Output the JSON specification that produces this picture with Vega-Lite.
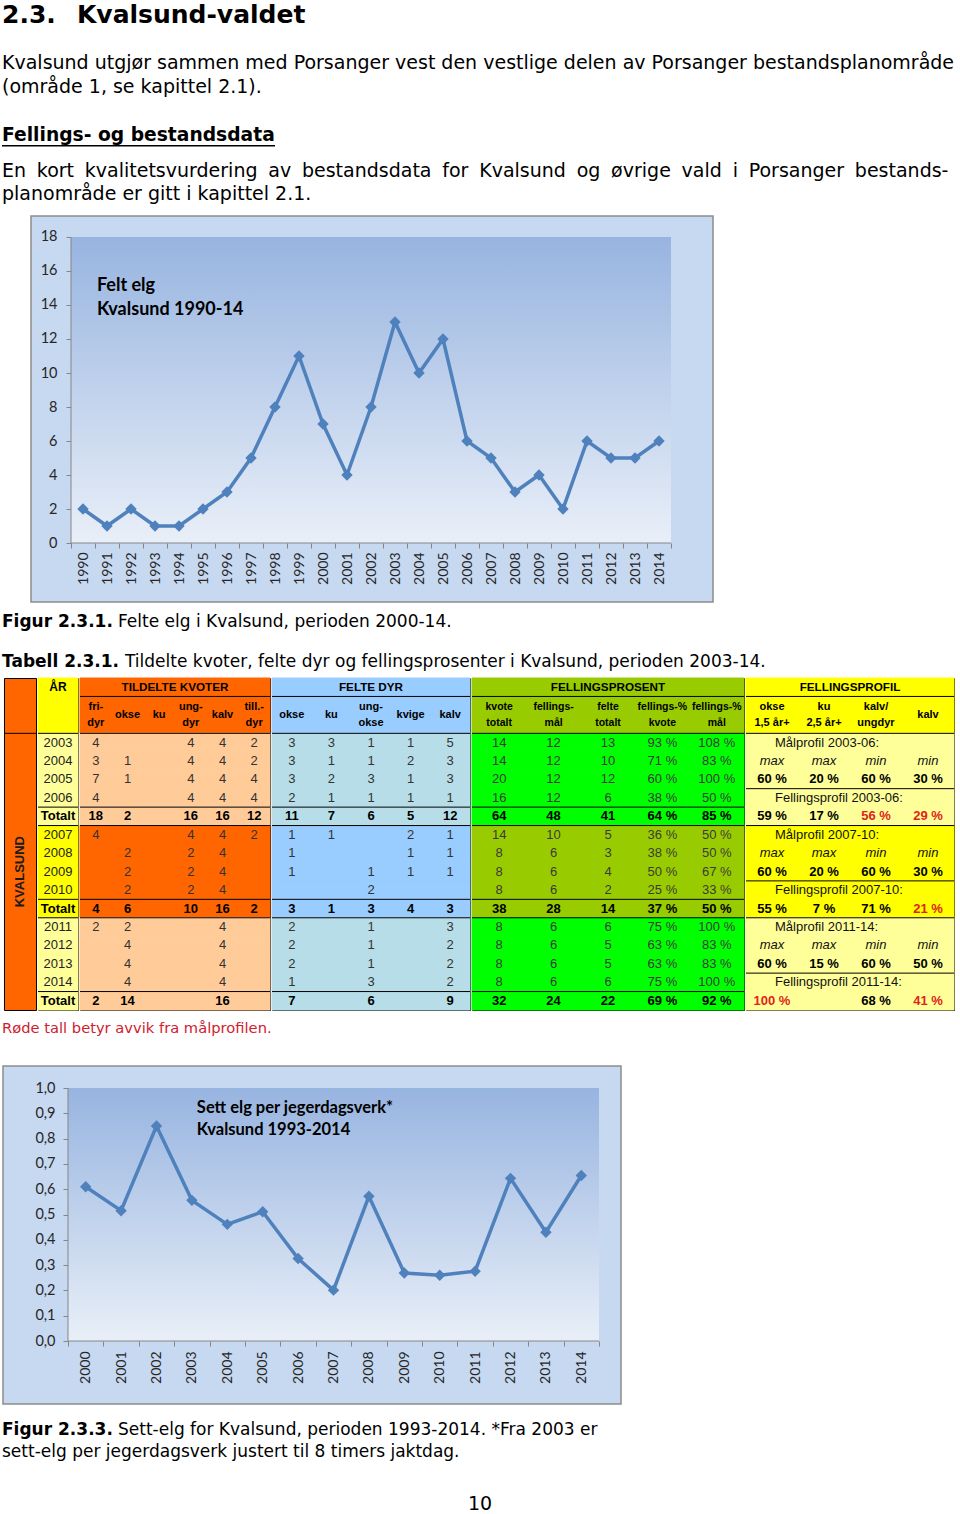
{
  "$schema": "https://vega.github.io/schema/vega-lite/v6.json",
  "padding": {"top": -5, "left": 0, "right": 0, "bottom": 0},
  "background": "#ffffff",
  "spacing": 0,
  "datasets": {
    "felt": [
      {"year": 1990, "felt": 2}, {"year": 1991, "felt": 1}, {"year": 1992, "felt": 2}, {"year": 1993, "felt": 1},
      {"year": 1994, "felt": 1}, {"year": 1995, "felt": 2}, {"year": 1996, "felt": 3}, {"year": 1997, "felt": 5},
      {"year": 1998, "felt": 8}, {"year": 1999, "felt": 11}, {"year": 2000, "felt": 7}, {"year": 2001, "felt": 4},
      {"year": 2002, "felt": 8}, {"year": 2003, "felt": 13}, {"year": 2004, "felt": 10}, {"year": 2005, "felt": 12},
      {"year": 2006, "felt": 6}, {"year": 2007, "felt": 5}, {"year": 2008, "felt": 3}, {"year": 2009, "felt": 4},
      {"year": 2010, "felt": 2}, {"year": 2011, "felt": 6}, {"year": 2012, "felt": 5}, {"year": 2013, "felt": 5},
      {"year": 2014, "felt": 6}
    ],
    "sett": [
      {"year": 2000, "sett": 0.61}, {"year": 2001, "sett": 0.515}, {"year": 2002, "sett": 0.85},
      {"year": 2003, "sett": 0.556}, {"year": 2004, "sett": 0.461}, {"year": 2005, "sett": 0.511},
      {"year": 2006, "sett": 0.326}, {"year": 2007, "sett": 0.201}, {"year": 2008, "sett": 0.572},
      {"year": 2009, "sett": 0.269}, {"year": 2010, "sett": 0.26}, {"year": 2011, "sett": 0.276},
      {"year": 2012, "sett": 0.643}, {"year": 2013, "sett": 0.43}, {"year": 2014, "sett": 0.654}
    ],
    "rows": [
      {"row": "h1"}, {"row": "h2a"}, {"row": "h2b"}, {"row": "2003"}, {"row": "2004"}, {"row": "2005"},
      {"row": "2006"}, {"row": "T1"}, {"row": "2007"}, {"row": "2008"}, {"row": "2009"}, {"row": "2010"},
      {"row": "T2"}, {"row": "2011"}, {"row": "2012"}, {"row": "2013"}, {"row": "2014"}, {"row": "T3"}
    ],
    "lines": [
      {"sec": "KV", "row": "2003"},
      {"sec": "AR", "row": "2003"}, {"sec": "AR", "row": "T1"}, {"sec": "AR", "row": "2007"}, {"sec": "AR", "row": "T2"}, {"sec": "AR", "row": "2011"}, {"sec": "AR", "row": "T3"},
      {"sec": "TK", "row": "h2a"}, {"sec": "TK", "row": "2003"}, {"sec": "TK", "row": "T1"}, {"sec": "TK", "row": "2007"}, {"sec": "TK", "row": "T2"}, {"sec": "TK", "row": "2011"}, {"sec": "TK", "row": "T3"},
      {"sec": "FD", "row": "h2a"}, {"sec": "FD", "row": "2003"}, {"sec": "FD", "row": "T1"}, {"sec": "FD", "row": "2007"}, {"sec": "FD", "row": "T2"}, {"sec": "FD", "row": "2011"}, {"sec": "FD", "row": "T3"},
      {"sec": "FP", "row": "h2a"}, {"sec": "FP", "row": "2003"}, {"sec": "FP", "row": "T1"}, {"sec": "FP", "row": "2007"}, {"sec": "FP", "row": "T2"}, {"sec": "FP", "row": "2011"}, {"sec": "FP", "row": "T3"},
      {"sec": "PR", "row": "h2a"}, {"sec": "PR", "row": "2003"}, {"sec": "PR", "row": "2006"}, {"sec": "PR", "row": "2007"}, {"sec": "PR", "row": "2010"}, {"sec": "PR", "row": "2011"}, {"sec": "PR", "row": "2014"}
    ],
    "cells": [
      {"sec": "KV", "col": "kv", "row": "2009", "v": "KVALSUND"},
      {"sec": "AR", "col": "ar", "row": "h1", "v": "ÅR"},
      {"sec": "AR", "col": "ar", "row": "2003", "v": "2003"}, {"sec": "AR", "col": "ar", "row": "2004", "v": "2004"},
      {"sec": "AR", "col": "ar", "row": "2005", "v": "2005"}, {"sec": "AR", "col": "ar", "row": "2006", "v": "2006"},
      {"sec": "AR", "col": "ar", "row": "T1", "v": "Totalt"},
      {"sec": "AR", "col": "ar", "row": "2007", "v": "2007"}, {"sec": "AR", "col": "ar", "row": "2008", "v": "2008"},
      {"sec": "AR", "col": "ar", "row": "2009", "v": "2009"}, {"sec": "AR", "col": "ar", "row": "2010", "v": "2010"},
      {"sec": "AR", "col": "ar", "row": "T2", "v": "Totalt"},
      {"sec": "AR", "col": "ar", "row": "2011", "v": "2011"}, {"sec": "AR", "col": "ar", "row": "2012", "v": "2012"},
      {"sec": "AR", "col": "ar", "row": "2013", "v": "2013"}, {"sec": "AR", "col": "ar", "row": "2014", "v": "2014"},
      {"sec": "AR", "col": "ar", "row": "T3", "v": "Totalt"},

      {"sec": "TK", "col": "ku", "row": "h1", "v": "TILDELTE KVOTER"},
      {"sec": "TK", "col": "fri", "row": "h2a", "v": "fri-\ndyr"}, {"sec": "TK", "col": "okse", "row": "h2a", "v": "okse"},
      {"sec": "TK", "col": "ku", "row": "h2a", "v": "ku"}, {"sec": "TK", "col": "ung", "row": "h2a", "v": "ung-\ndyr"},
      {"sec": "TK", "col": "kalv", "row": "h2a", "v": "kalv"}, {"sec": "TK", "col": "till", "row": "h2a", "v": "till.-\ndyr"},
      {"sec": "TK", "col": "fri", "row": "2003", "v": 4}, {"sec": "TK", "col": "ung", "row": "2003", "v": 4}, {"sec": "TK", "col": "kalv", "row": "2003", "v": 4}, {"sec": "TK", "col": "till", "row": "2003", "v": 2},
      {"sec": "TK", "col": "fri", "row": "2004", "v": 3}, {"sec": "TK", "col": "okse", "row": "2004", "v": 1}, {"sec": "TK", "col": "ung", "row": "2004", "v": 4}, {"sec": "TK", "col": "kalv", "row": "2004", "v": 4}, {"sec": "TK", "col": "till", "row": "2004", "v": 2},
      {"sec": "TK", "col": "fri", "row": "2005", "v": 7}, {"sec": "TK", "col": "okse", "row": "2005", "v": 1}, {"sec": "TK", "col": "ung", "row": "2005", "v": 4}, {"sec": "TK", "col": "kalv", "row": "2005", "v": 4}, {"sec": "TK", "col": "till", "row": "2005", "v": 4},
      {"sec": "TK", "col": "fri", "row": "2006", "v": 4}, {"sec": "TK", "col": "ung", "row": "2006", "v": 4}, {"sec": "TK", "col": "kalv", "row": "2006", "v": 4}, {"sec": "TK", "col": "till", "row": "2006", "v": 4},
      {"sec": "TK", "col": "fri", "row": "T1", "v": 18}, {"sec": "TK", "col": "okse", "row": "T1", "v": 2}, {"sec": "TK", "col": "ung", "row": "T1", "v": 16}, {"sec": "TK", "col": "kalv", "row": "T1", "v": 16}, {"sec": "TK", "col": "till", "row": "T1", "v": 12},
      {"sec": "TK", "col": "fri", "row": "2007", "v": 4}, {"sec": "TK", "col": "ung", "row": "2007", "v": 4}, {"sec": "TK", "col": "kalv", "row": "2007", "v": 4}, {"sec": "TK", "col": "till", "row": "2007", "v": 2},
      {"sec": "TK", "col": "okse", "row": "2008", "v": 2}, {"sec": "TK", "col": "ung", "row": "2008", "v": 2}, {"sec": "TK", "col": "kalv", "row": "2008", "v": 4},
      {"sec": "TK", "col": "okse", "row": "2009", "v": 2}, {"sec": "TK", "col": "ung", "row": "2009", "v": 2}, {"sec": "TK", "col": "kalv", "row": "2009", "v": 4},
      {"sec": "TK", "col": "okse", "row": "2010", "v": 2}, {"sec": "TK", "col": "ung", "row": "2010", "v": 2}, {"sec": "TK", "col": "kalv", "row": "2010", "v": 4},
      {"sec": "TK", "col": "fri", "row": "T2", "v": 4}, {"sec": "TK", "col": "okse", "row": "T2", "v": 6}, {"sec": "TK", "col": "ung", "row": "T2", "v": 10}, {"sec": "TK", "col": "kalv", "row": "T2", "v": 16}, {"sec": "TK", "col": "till", "row": "T2", "v": 2},
      {"sec": "TK", "col": "fri", "row": "2011", "v": 2}, {"sec": "TK", "col": "okse", "row": "2011", "v": 2}, {"sec": "TK", "col": "kalv", "row": "2011", "v": 4},
      {"sec": "TK", "col": "okse", "row": "2012", "v": 4}, {"sec": "TK", "col": "kalv", "row": "2012", "v": 4},
      {"sec": "TK", "col": "okse", "row": "2013", "v": 4}, {"sec": "TK", "col": "kalv", "row": "2013", "v": 4},
      {"sec": "TK", "col": "okse", "row": "2014", "v": 4}, {"sec": "TK", "col": "kalv", "row": "2014", "v": 4},
      {"sec": "TK", "col": "fri", "row": "T3", "v": 2}, {"sec": "TK", "col": "okse", "row": "T3", "v": 14}, {"sec": "TK", "col": "kalv", "row": "T3", "v": 16},

      {"sec": "FD", "col": "ungokse", "row": "h1", "v": "FELTE DYR"},
      {"sec": "FD", "col": "okse", "row": "h2a", "v": "okse"}, {"sec": "FD", "col": "ku", "row": "h2a", "v": "ku"},
      {"sec": "FD", "col": "ungokse", "row": "h2a", "v": "ung-\nokse"}, {"sec": "FD", "col": "kvige", "row": "h2a", "v": "kvige"},
      {"sec": "FD", "col": "kalv", "row": "h2a", "v": "kalv"},
      {"sec": "FD", "col": "okse", "row": "2003", "v": 3}, {"sec": "FD", "col": "ku", "row": "2003", "v": 3}, {"sec": "FD", "col": "ungokse", "row": "2003", "v": 1}, {"sec": "FD", "col": "kvige", "row": "2003", "v": 1}, {"sec": "FD", "col": "kalv", "row": "2003", "v": 5},
      {"sec": "FD", "col": "okse", "row": "2004", "v": 3}, {"sec": "FD", "col": "ku", "row": "2004", "v": 1}, {"sec": "FD", "col": "ungokse", "row": "2004", "v": 1}, {"sec": "FD", "col": "kvige", "row": "2004", "v": 2}, {"sec": "FD", "col": "kalv", "row": "2004", "v": 3},
      {"sec": "FD", "col": "okse", "row": "2005", "v": 3}, {"sec": "FD", "col": "ku", "row": "2005", "v": 2}, {"sec": "FD", "col": "ungokse", "row": "2005", "v": 3}, {"sec": "FD", "col": "kvige", "row": "2005", "v": 1}, {"sec": "FD", "col": "kalv", "row": "2005", "v": 3},
      {"sec": "FD", "col": "okse", "row": "2006", "v": 2}, {"sec": "FD", "col": "ku", "row": "2006", "v": 1}, {"sec": "FD", "col": "ungokse", "row": "2006", "v": 1}, {"sec": "FD", "col": "kvige", "row": "2006", "v": 1}, {"sec": "FD", "col": "kalv", "row": "2006", "v": 1},
      {"sec": "FD", "col": "okse", "row": "T1", "v": 11}, {"sec": "FD", "col": "ku", "row": "T1", "v": 7}, {"sec": "FD", "col": "ungokse", "row": "T1", "v": 6}, {"sec": "FD", "col": "kvige", "row": "T1", "v": 5}, {"sec": "FD", "col": "kalv", "row": "T1", "v": 12},
      {"sec": "FD", "col": "okse", "row": "2007", "v": 1}, {"sec": "FD", "col": "ku", "row": "2007", "v": 1}, {"sec": "FD", "col": "kvige", "row": "2007", "v": 2}, {"sec": "FD", "col": "kalv", "row": "2007", "v": 1},
      {"sec": "FD", "col": "okse", "row": "2008", "v": 1}, {"sec": "FD", "col": "kvige", "row": "2008", "v": 1}, {"sec": "FD", "col": "kalv", "row": "2008", "v": 1},
      {"sec": "FD", "col": "okse", "row": "2009", "v": 1}, {"sec": "FD", "col": "ungokse", "row": "2009", "v": 1}, {"sec": "FD", "col": "kvige", "row": "2009", "v": 1}, {"sec": "FD", "col": "kalv", "row": "2009", "v": 1},
      {"sec": "FD", "col": "ungokse", "row": "2010", "v": 2},
      {"sec": "FD", "col": "okse", "row": "T2", "v": 3}, {"sec": "FD", "col": "ku", "row": "T2", "v": 1}, {"sec": "FD", "col": "ungokse", "row": "T2", "v": 3}, {"sec": "FD", "col": "kvige", "row": "T2", "v": 4}, {"sec": "FD", "col": "kalv", "row": "T2", "v": 3},
      {"sec": "FD", "col": "okse", "row": "2011", "v": 2}, {"sec": "FD", "col": "ungokse", "row": "2011", "v": 1}, {"sec": "FD", "col": "kalv", "row": "2011", "v": 3},
      {"sec": "FD", "col": "okse", "row": "2012", "v": 2}, {"sec": "FD", "col": "ungokse", "row": "2012", "v": 1}, {"sec": "FD", "col": "kalv", "row": "2012", "v": 2},
      {"sec": "FD", "col": "okse", "row": "2013", "v": 2}, {"sec": "FD", "col": "ungokse", "row": "2013", "v": 1}, {"sec": "FD", "col": "kalv", "row": "2013", "v": 2},
      {"sec": "FD", "col": "okse", "row": "2014", "v": 1}, {"sec": "FD", "col": "ungokse", "row": "2014", "v": 3}, {"sec": "FD", "col": "kalv", "row": "2014", "v": 2},
      {"sec": "FD", "col": "okse", "row": "T3", "v": 7}, {"sec": "FD", "col": "ungokse", "row": "T3", "v": 6}, {"sec": "FD", "col": "kalv", "row": "T3", "v": 9},

      {"sec": "FP", "col": "felte", "row": "h1", "v": "FELLINGSPROSENT"},
      {"sec": "FP", "col": "kvote", "row": "h2a", "v": "kvote\ntotalt"}, {"sec": "FP", "col": "mal", "row": "h2a", "v": "fellings-\nmål"},
      {"sec": "FP", "col": "felte", "row": "h2a", "v": "felte\ntotalt"}, {"sec": "FP", "col": "pkvote", "row": "h2a", "v": "fellings-%\nkvote"},
      {"sec": "FP", "col": "pmal", "row": "h2a", "v": "fellings-%\nmål"},
      {"sec": "FP", "col": "kvote", "row": "2003", "v": 14}, {"sec": "FP", "col": "mal", "row": "2003", "v": 12}, {"sec": "FP", "col": "felte", "row": "2003", "v": 13}, {"sec": "FP", "col": "pkvote", "row": "2003", "v": "93 %"}, {"sec": "FP", "col": "pmal", "row": "2003", "v": "108 %"},
      {"sec": "FP", "col": "kvote", "row": "2004", "v": 14}, {"sec": "FP", "col": "mal", "row": "2004", "v": 12}, {"sec": "FP", "col": "felte", "row": "2004", "v": 10}, {"sec": "FP", "col": "pkvote", "row": "2004", "v": "71 %"}, {"sec": "FP", "col": "pmal", "row": "2004", "v": "83 %"},
      {"sec": "FP", "col": "kvote", "row": "2005", "v": 20}, {"sec": "FP", "col": "mal", "row": "2005", "v": 12}, {"sec": "FP", "col": "felte", "row": "2005", "v": 12}, {"sec": "FP", "col": "pkvote", "row": "2005", "v": "60 %"}, {"sec": "FP", "col": "pmal", "row": "2005", "v": "100 %"},
      {"sec": "FP", "col": "kvote", "row": "2006", "v": 16}, {"sec": "FP", "col": "mal", "row": "2006", "v": 12}, {"sec": "FP", "col": "felte", "row": "2006", "v": 6}, {"sec": "FP", "col": "pkvote", "row": "2006", "v": "38 %"}, {"sec": "FP", "col": "pmal", "row": "2006", "v": "50 %"},
      {"sec": "FP", "col": "kvote", "row": "T1", "v": 64}, {"sec": "FP", "col": "mal", "row": "T1", "v": 48}, {"sec": "FP", "col": "felte", "row": "T1", "v": 41}, {"sec": "FP", "col": "pkvote", "row": "T1", "v": "64 %"}, {"sec": "FP", "col": "pmal", "row": "T1", "v": "85 %"},
      {"sec": "FP", "col": "kvote", "row": "2007", "v": 14}, {"sec": "FP", "col": "mal", "row": "2007", "v": 10}, {"sec": "FP", "col": "felte", "row": "2007", "v": 5}, {"sec": "FP", "col": "pkvote", "row": "2007", "v": "36 %"}, {"sec": "FP", "col": "pmal", "row": "2007", "v": "50 %"},
      {"sec": "FP", "col": "kvote", "row": "2008", "v": 8}, {"sec": "FP", "col": "mal", "row": "2008", "v": 6}, {"sec": "FP", "col": "felte", "row": "2008", "v": 3}, {"sec": "FP", "col": "pkvote", "row": "2008", "v": "38 %"}, {"sec": "FP", "col": "pmal", "row": "2008", "v": "50 %"},
      {"sec": "FP", "col": "kvote", "row": "2009", "v": 8}, {"sec": "FP", "col": "mal", "row": "2009", "v": 6}, {"sec": "FP", "col": "felte", "row": "2009", "v": 4}, {"sec": "FP", "col": "pkvote", "row": "2009", "v": "50 %"}, {"sec": "FP", "col": "pmal", "row": "2009", "v": "67 %"},
      {"sec": "FP", "col": "kvote", "row": "2010", "v": 8}, {"sec": "FP", "col": "mal", "row": "2010", "v": 6}, {"sec": "FP", "col": "felte", "row": "2010", "v": 2}, {"sec": "FP", "col": "pkvote", "row": "2010", "v": "25 %"}, {"sec": "FP", "col": "pmal", "row": "2010", "v": "33 %"},
      {"sec": "FP", "col": "kvote", "row": "T2", "v": 38}, {"sec": "FP", "col": "mal", "row": "T2", "v": 28}, {"sec": "FP", "col": "felte", "row": "T2", "v": 14}, {"sec": "FP", "col": "pkvote", "row": "T2", "v": "37 %"}, {"sec": "FP", "col": "pmal", "row": "T2", "v": "50 %"},
      {"sec": "FP", "col": "kvote", "row": "2011", "v": 8}, {"sec": "FP", "col": "mal", "row": "2011", "v": 6}, {"sec": "FP", "col": "felte", "row": "2011", "v": 6}, {"sec": "FP", "col": "pkvote", "row": "2011", "v": "75 %"}, {"sec": "FP", "col": "pmal", "row": "2011", "v": "100 %"},
      {"sec": "FP", "col": "kvote", "row": "2012", "v": 8}, {"sec": "FP", "col": "mal", "row": "2012", "v": 6}, {"sec": "FP", "col": "felte", "row": "2012", "v": 5}, {"sec": "FP", "col": "pkvote", "row": "2012", "v": "63 %"}, {"sec": "FP", "col": "pmal", "row": "2012", "v": "83 %"},
      {"sec": "FP", "col": "kvote", "row": "2013", "v": 8}, {"sec": "FP", "col": "mal", "row": "2013", "v": 6}, {"sec": "FP", "col": "felte", "row": "2013", "v": 5}, {"sec": "FP", "col": "pkvote", "row": "2013", "v": "63 %"}, {"sec": "FP", "col": "pmal", "row": "2013", "v": "83 %"},
      {"sec": "FP", "col": "kvote", "row": "2014", "v": 8}, {"sec": "FP", "col": "mal", "row": "2014", "v": 6}, {"sec": "FP", "col": "felte", "row": "2014", "v": 6}, {"sec": "FP", "col": "pkvote", "row": "2014", "v": "75 %"}, {"sec": "FP", "col": "pmal", "row": "2014", "v": "100 %"},
      {"sec": "FP", "col": "kvote", "row": "T3", "v": 32}, {"sec": "FP", "col": "mal", "row": "T3", "v": 24}, {"sec": "FP", "col": "felte", "row": "T3", "v": 22}, {"sec": "FP", "col": "pkvote", "row": "T3", "v": "69 %"}, {"sec": "FP", "col": "pmal", "row": "T3", "v": "92 %"},

      {"sec": "PR", "col": "ku", "row": "h1", "v": "FELLINGSPROFIL"},
      {"sec": "PR", "col": "okse", "row": "h2a", "v": "okse\n1,5 år+"}, {"sec": "PR", "col": "ku", "row": "h2a", "v": "ku\n2,5 år+"},
      {"sec": "PR", "col": "kalvung", "row": "h2a", "v": "kalv/\nungdyr"}, {"sec": "PR", "col": "kalv", "row": "h2a", "v": "kalv"},
      {"sec": "PR", "col": "okse", "row": "2003", "v": "Målprofil 2003-06:"},
      {"sec": "PR", "col": "okse", "row": "2004", "v": "max"}, {"sec": "PR", "col": "ku", "row": "2004", "v": "max"}, {"sec": "PR", "col": "kalvung", "row": "2004", "v": "min"}, {"sec": "PR", "col": "kalv", "row": "2004", "v": "min"},
      {"sec": "PR", "col": "okse", "row": "2005", "v": "60 %"}, {"sec": "PR", "col": "ku", "row": "2005", "v": "20 %"}, {"sec": "PR", "col": "kalvung", "row": "2005", "v": "60 %"}, {"sec": "PR", "col": "kalv", "row": "2005", "v": "30 %"},
      {"sec": "PR", "col": "okse", "row": "2006", "v": "Fellingsprofil 2003-06:"},
      {"sec": "PR", "col": "okse", "row": "T1", "v": "59 %"}, {"sec": "PR", "col": "ku", "row": "T1", "v": "17 %"}, {"sec": "PR", "col": "kalvung", "row": "T1", "v": "56 %", "avvik": true}, {"sec": "PR", "col": "kalv", "row": "T1", "v": "29 %", "avvik": true},
      {"sec": "PR", "col": "okse", "row": "2007", "v": "Målprofil 2007-10:"},
      {"sec": "PR", "col": "okse", "row": "2008", "v": "max"}, {"sec": "PR", "col": "ku", "row": "2008", "v": "max"}, {"sec": "PR", "col": "kalvung", "row": "2008", "v": "min"}, {"sec": "PR", "col": "kalv", "row": "2008", "v": "min"},
      {"sec": "PR", "col": "okse", "row": "2009", "v": "60 %"}, {"sec": "PR", "col": "ku", "row": "2009", "v": "20 %"}, {"sec": "PR", "col": "kalvung", "row": "2009", "v": "60 %"}, {"sec": "PR", "col": "kalv", "row": "2009", "v": "30 %"},
      {"sec": "PR", "col": "okse", "row": "2010", "v": "Fellingsprofil 2007-10:"},
      {"sec": "PR", "col": "okse", "row": "T2", "v": "55 %"}, {"sec": "PR", "col": "ku", "row": "T2", "v": "7 %"}, {"sec": "PR", "col": "kalvung", "row": "T2", "v": "71 %"}, {"sec": "PR", "col": "kalv", "row": "T2", "v": "21 %", "avvik": true},
      {"sec": "PR", "col": "okse", "row": "2011", "v": "Målprofil 2011-14:"},
      {"sec": "PR", "col": "okse", "row": "2012", "v": "max"}, {"sec": "PR", "col": "ku", "row": "2012", "v": "max"}, {"sec": "PR", "col": "kalvung", "row": "2012", "v": "min"}, {"sec": "PR", "col": "kalv", "row": "2012", "v": "min"},
      {"sec": "PR", "col": "okse", "row": "2013", "v": "60 %"}, {"sec": "PR", "col": "ku", "row": "2013", "v": "15 %"}, {"sec": "PR", "col": "kalvung", "row": "2013", "v": "60 %"}, {"sec": "PR", "col": "kalv", "row": "2013", "v": "50 %"},
      {"sec": "PR", "col": "okse", "row": "2014", "v": "Fellingsprofil 2011-14:"},
      {"sec": "PR", "col": "okse", "row": "T3", "v": "100 %", "avvik": true}, {"sec": "PR", "col": "kalvung", "row": "T3", "v": "68 %"}, {"sec": "PR", "col": "kalv", "row": "T3", "v": "41 %", "avvik": true}
    ]
  },
  "vconcat": [
    {
      "width": 960, "height": 4, "data": {"values": []}, "mark": "point", "encoding": {},
      "title": {
        "text": "2.3.\u2002\u00a0Kvalsund-valdet", "fontSize": 25, "fontWeight": "bold", "dx": 2,
        "subtitle": ["Kvalsund utgjør sammen med Porsanger vest den vestlige delen av Porsanger bestandsplanområde", "(område 1, se kapittel 2.1)."],
        "subtitleFontSize": 19, "subtitleLineHeight": 24, "subtitlePadding": 26
      }
    },
    {
      "width": 960, "height": 25, "data": {"values": []}, "mark": "point", "encoding": {},
      "title": {"text": "Fellings- og bestandsdata", "fontSize": 18.7, "fontWeight": "bold", "dx": 2}
    },
    {
      "spacing": 0,
      "hconcat": [
        {"width": 2, "height": 1.6, "data": {"values": []}, "mark": "point", "encoding": {}},
        {"width": 273, "height": 1.6, "view": {"fill": "#000000", "stroke": null}, "data": {"values": []}, "mark": "point", "encoding": {}}
      ]
    },
    {
      "width": 960, "height": 11, "data": {"values": []}, "mark": "point", "encoding": {},
      "title": {
        "text": ["En \u2005kort \u2005kvalitetsvurdering \u2005av \u2005bestandsdata \u2005for \u2005Kvalsund \u2005og \u2005øvrige \u2005vald \u2005i \u2005Porsanger \u2005bestands-", "planområde er gitt i kapittel 2.1."],
        "fontSize": 19, "fontWeight": "normal", "lineHeight": 23, "dx": 2
      }
    },
    {"width": 1, "height": 11, "data": {"values": []}, "mark": "point", "encoding": {}},
    {
      "spacing": 0,
      "hconcat": [
        {"width": 30, "height": 1, "data": {"values": []}, "mark": "point", "encoding": {}},
        {
          "width": 682, "height": 386,
          "view": {"fill": "#c6d9f1", "stroke": "#8c8c8c", "strokeWidth": 1.5},
          "data": {"name": "felt"},
          "resolve": {"axis": {"x": "independent"}},
          "layer": [
            {
              "data": {"values": [{}]},
              "mark": {"type": "rect",
                "fill": {"gradient": "linear", "x1": 0, "y1": 0, "x2": 0, "y2": 1, "stops": [{"offset": 0, "color": "#97b4e0"}, {"offset": 1, "color": "#e9eff8"}]}},
              "encoding": {
                "x": {"datum": 1989.5, "type": "quantitative",
                  "scale": {"domain": [1987.8333, 2016.25], "nice": false, "zero": false},
                  "axis": {"orient": "bottom", "title": null, "values": [1989.5, 1990.5, 1991.5, 1992.5, 1993.5, 1994.5, 1995.5, 1996.5, 1997.5, 1998.5, 1999.5, 2000.5, 2001.5, 2002.5, 2003.5, 2004.5, 2005.5, 2006.5, 2007.5, 2008.5, 2009.5, 2010.5, 2011.5, 2012.5, 2013.5, 2014.5], "tickCount": 100, "labels": false, "ticks": true, "tickSize": 5, "tickColor": "#868686", "domain": false, "grid": false, "offset": -59}},
                "x2": {"datum": 2014.5},
                "y": {"datum": 0, "type": "quantitative",
                  "scale": {"domain": [-3.47, 19.235], "nice": false, "zero": false},
                  "axis": {"title": null, "values": [0, 2, 4, 6, 8, 10, 12, 14, 16, 18], "format": "d", "tickCount": 100, "offset": -40, "domain": false, "grid": false, "ticks": true, "tickSize": 5, "tickColor": "#868686", "labels": true, "labelFont": "Lato", "labelFontSize": 14.5, "labelColor": "#262626", "labelPadding": 9, "labelOverlap": false, "maxExtent": 0, "minExtent": 0}},
                "y2": {"datum": 18}
              }
            },
            {
              "data": {"values": [{}]},
              "mark": {"type": "rule", "color": "#868686", "strokeWidth": 1},
              "encoding": {"x": {"datum": 1989.5, "type": "quantitative", "axis": null}, "x2": {"datum": 2014.5}, "y": {"datum": 0, "type": "quantitative"}}
            },
            {
              "data": {"values": [{}]},
              "mark": {"type": "rule", "color": "#868686", "strokeWidth": 1},
              "encoding": {"x": {"datum": 1989.5, "type": "quantitative", "axis": null}, "y": {"datum": 0, "type": "quantitative"}, "y2": {"datum": 18}}
            },
            {
              "mark": {"type": "line", "color": "#4f81bd", "strokeWidth": 3.5},
              "encoding": {
                "x": {"field": "year", "type": "quantitative",
                  "axis": {"orient": "bottom", "title": null, "values": [1990, 1991, 1992, 1993, 1994, 1995, 1996, 1997, 1998, 1999, 2000, 2001, 2002, 2003, 2004, 2005, 2006, 2007, 2008, 2009, 2010, 2011, 2012, 2013, 2014], "tickCount": 100, "format": "d", "ticks": false, "tickSize": 0, "domain": false, "grid": false, "offset": -59, "labelAngle": -90, "labelAlign": "right", "labelBaseline": "middle", "labelPadding": 9, "labelFont": "Lato", "labelFontSize": 14, "labelColor": "#262626", "labelOverlap": false, "labelFlush": false}},
                "y": {"field": "felt", "type": "quantitative"}}
            },
            {
              "mark": {"type": "point", "shape": "diamond", "filled": true, "size": 130, "color": "#4f81bd", "opacity": 1},
              "encoding": {"x": {"field": "year", "type": "quantitative", "axis": null}, "y": {"field": "felt", "type": "quantitative"}}
            },
            {
              "data": {"values": [{"label": "Felt elg"}]},
              "mark": {"type": "text", "font": "Lato", "fontSize": 18, "fontWeight": "bold", "align": "left", "baseline": "top", "lineHeight": 24, "color": "#000"},
              "encoding": {"x": {"datum": 1990.58, "type": "quantitative", "axis": null}, "y": {"datum": 15.62, "type": "quantitative"}, "text": {"value": ["Felt elg", "Kvalsund 1990-14"]}}
            }
          ]
        }
      ]
    },
    {
      "spacing": 5,
      "hconcat": [
        {"width": 1, "height": 7, "data": {"values": []}, "mark": "point", "encoding": {}, "title": {"text": "Figur 2.3.1.", "fontSize": 17, "fontWeight": "bold", "dx": 2}},
        {"width": 1, "height": 7, "data": {"values": []}, "mark": "point", "encoding": {}, "title": {"text": "Felte elg i Kvalsund, perioden 2000-14.", "fontSize": 17, "fontWeight": "normal"}}
      ]
    },
    {
      "spacing": 5,
      "hconcat": [
        {"width": 1, "height": 20, "data": {"values": []}, "mark": "point", "encoding": {}, "title": {"text": "Tabell 2.3.1.", "fontSize": 17, "fontWeight": "bold", "dx": 2}},
        {"width": 1, "height": 20, "data": {"values": []}, "mark": "point", "encoding": {}, "title": {"text": "Tildelte kvoter, felte dyr og fellingsprosenter i Kvalsund, perioden 2003-14.", "fontSize": 17, "fontWeight": "normal"}}
      ]
    },
    {"width": 1, "height": 7, "data": {"values": []}, "mark": "point", "encoding": {}},
    {
      "spacing": 0,
      "hconcat": [
        {"width": 3, "height": 1, "data": {"values": []}, "mark": "point", "encoding": {}},
        {
          "width": 32, "height": 332,
          "view": {"fill": "#ff6600", "stroke": "#000", "strokeWidth": 1},
          "layer": [
            {"data": {"name": "lines"}, "transform": [{"filter": "datum.sec === 'KV'"}],
             "mark": {"type": "rule", "color": "#000", "strokeWidth": 1},
             "encoding": {"y": {"field": "row", "type": "nominal", "bandPosition": 0, "axis": null,
               "scale": {"domain": ["h1","h2a","h2b","2003","2004","2005","2006","T1","2007","2008","2009","2010","T2","2011","2012","2013","2014","T3"], "paddingInner": 0, "paddingOuter": 0}}}},
            {"data": {"name": "cells"}, "transform": [{"filter": "datum.sec === 'KV'"}],
             "mark": {"type": "text", "font": "Liberation Sans", "fontSize": 13, "fontWeight": "bold", "angle": 270, "color": "#1a1a1a", "baseline": "middle"},
             "encoding": {"y": {"field": "row", "type": "nominal", "axis": null}, "text": {"field": "v"}}}
          ]
        },
        {
          "width": 40, "height": 332,
          "view": {"stroke": "#000", "strokeWidth": 1},
          "layer": [
            {"data": {"name": "rows"}, "mark": {"type": "rect", "strokeWidth": 1},
             "encoding": {"y": {"field": "row", "type": "nominal", "axis": null,
               "scale": {"domain": ["h1","h2a","h2b","2003","2004","2005","2006","T1","2007","2008","2009","2010","T2","2011","2012","2013","2014","T3"], "paddingInner": 0, "paddingOuter": 0}},
               "fill": {"condition": {"test": "indexof(['h1','h2a','h2b','2007','2008','2009','2010','T2'], datum.row) >= 0", "value": "#ffff00"}, "value": "#ffff99"},
               "stroke": {"condition": {"test": "indexof(['h1','h2a','h2b','2007','2008','2009','2010','T2'], datum.row) >= 0", "value": "#ffff00"}, "value": "#ffff99"}}},
            {"data": {"name": "lines"}, "transform": [{"filter": "datum.sec === 'AR'"}],
             "mark": {"type": "rule", "color": "#000", "strokeWidth": 1},
             "encoding": {"y": {"field": "row", "type": "nominal", "bandPosition": 0, "axis": null}}},
            {"data": {"name": "cells"}, "transform": [{"filter": "datum.sec === 'AR' && datum.row === 'h1'"}],
             "mark": {"type": "text", "font": "Liberation Sans", "fontSize": 12, "fontWeight": "bold", "color": "#000", "baseline": "middle"},
             "encoding": {"y": {"field": "row", "type": "nominal", "axis": null}, "text": {"field": "v"}}},
            {"data": {"name": "cells"}, "transform": [{"filter": "datum.sec === 'AR' && test(/^[0-9]/, datum.row)"}],
             "mark": {"type": "text", "font": "Liberation Sans", "fontSize": 13, "color": "#222", "baseline": "middle"},
             "encoding": {"y": {"field": "row", "type": "nominal", "axis": null}, "text": {"field": "v"}}},
            {"data": {"name": "cells"}, "transform": [{"filter": "datum.sec === 'AR' && test(/^T/, datum.row)"}],
             "mark": {"type": "text", "font": "Liberation Sans", "fontSize": 13, "fontWeight": "bold", "color": "#000", "baseline": "middle"},
             "encoding": {"y": {"field": "row", "type": "nominal", "axis": null}, "text": {"field": "v"}}}
          ]
        },
        {
          "width": 190, "height": 332,
          "view": {"stroke": "#000", "strokeWidth": 1},
          "layer": [
            {"data": {"name": "rows"}, "mark": {"type": "rect", "strokeWidth": 1},
             "encoding": {"y": {"field": "row", "type": "nominal", "axis": null,
               "scale": {"domain": ["h1","h2a","h2b","2003","2004","2005","2006","T1","2007","2008","2009","2010","T2","2011","2012","2013","2014","T3"], "paddingInner": 0, "paddingOuter": 0}},
               "fill": {"condition": {"test": "indexof(['h1','h2a','h2b','2007','2008','2009','2010','T2'], datum.row) >= 0", "value": "#ff6600"}, "value": "#ffcc99"},
               "stroke": {"condition": {"test": "indexof(['h1','h2a','h2b','2007','2008','2009','2010','T2'], datum.row) >= 0", "value": "#ff6600"}, "value": "#ffcc99"}}},
            {"data": {"name": "lines"}, "transform": [{"filter": "datum.sec === 'TK'"}],
             "mark": {"type": "rule", "color": "#000", "strokeWidth": 1},
             "encoding": {"y": {"field": "row", "type": "nominal", "bandPosition": 0, "axis": null}}},
            {"data": {"name": "cells"}, "transform": [{"filter": "datum.sec === 'TK' && datum.row === 'h1'"}],
             "mark": {"type": "text", "font": "Liberation Sans", "fontSize": 11.7, "fontWeight": "bold", "color": "#000", "baseline": "middle", "letterSpacing": -0.4},
             "encoding": {"y": {"field": "row", "type": "nominal", "axis": null}, "text": {"field": "v"}}},
            {"data": {"name": "cells"}, "transform": [{"filter": "datum.sec === 'TK' && datum.row === 'h2a' && !test(/\\n/, datum.v)"}],
             "mark": {"type": "text", "font": "Liberation Sans", "fontSize": 11, "fontWeight": "bold", "color": "#000", "baseline": "middle"},
             "encoding": {
               "x": {"field": "col", "type": "nominal", "axis": null, "scale": {"domain": ["fri","okse","ku","ung","kalv","till"], "paddingInner": 0, "paddingOuter": 0}},
               "y": {"field": "row", "type": "nominal", "bandPosition": 1, "axis": null}, "text": {"field": "v"}}},
            {"data": {"name": "cells"}, "transform": [{"filter": "datum.sec === 'TK' && datum.row === 'h2a' && test(/\\n/, datum.v)"}],
             "mark": {"type": "text", "font": "Liberation Sans", "fontSize": 11, "fontWeight": "bold", "color": "#000", "baseline": "middle", "lineBreak": "\n", "lineHeight": 16, "dy": -8},
             "encoding": {"x": {"field": "col", "type": "nominal", "axis": null}, "y": {"field": "row", "type": "nominal", "bandPosition": 1, "axis": null}, "text": {"field": "v"}}},
            {"data": {"name": "cells"}, "transform": [{"filter": "datum.sec === 'TK' && test(/^[0-9]/, datum.row)"}],
             "mark": {"type": "text", "font": "Liberation Sans", "fontSize": 13, "color": "#333", "baseline": "middle"},
             "encoding": {"x": {"field": "col", "type": "nominal", "axis": null}, "y": {"field": "row", "type": "nominal", "axis": null}, "text": {"field": "v"}}},
            {"data": {"name": "cells"}, "transform": [{"filter": "datum.sec === 'TK' && test(/^T/, datum.row)"}],
             "mark": {"type": "text", "font": "Liberation Sans", "fontSize": 13, "fontWeight": "bold", "color": "#000", "baseline": "middle"},
             "encoding": {"x": {"field": "col", "type": "nominal", "axis": null}, "y": {"field": "row", "type": "nominal", "axis": null}, "text": {"field": "v"}}}
          ]
        },
        {
          "width": 198, "height": 332,
          "view": {"stroke": "#000", "strokeWidth": 1},
          "layer": [
            {"data": {"name": "rows"}, "mark": {"type": "rect", "strokeWidth": 1},
             "encoding": {"y": {"field": "row", "type": "nominal", "axis": null,
               "scale": {"domain": ["h1","h2a","h2b","2003","2004","2005","2006","T1","2007","2008","2009","2010","T2","2011","2012","2013","2014","T3"], "paddingInner": 0, "paddingOuter": 0}},
               "fill": {"condition": {"test": "indexof(['h1','h2a','h2b','2007','2008','2009','2010','T2'], datum.row) >= 0", "value": "#99ccff"}, "value": "#b7dee8"},
               "stroke": {"condition": {"test": "indexof(['h1','h2a','h2b','2007','2008','2009','2010','T2'], datum.row) >= 0", "value": "#99ccff"}, "value": "#b7dee8"}}},
            {"data": {"name": "lines"}, "transform": [{"filter": "datum.sec === 'FD'"}],
             "mark": {"type": "rule", "color": "#000", "strokeWidth": 1},
             "encoding": {"y": {"field": "row", "type": "nominal", "bandPosition": 0, "axis": null}}},
            {"data": {"name": "cells"}, "transform": [{"filter": "datum.sec === 'FD' && datum.row === 'h1'"}],
             "mark": {"type": "text", "font": "Liberation Sans", "fontSize": 11.7, "fontWeight": "bold", "color": "#000", "baseline": "middle", "letterSpacing": -0.4},
             "encoding": {"y": {"field": "row", "type": "nominal", "axis": null}, "text": {"field": "v"}}},
            {"data": {"name": "cells"}, "transform": [{"filter": "datum.sec === 'FD' && datum.row === 'h2a' && !test(/\\n/, datum.v)"}],
             "mark": {"type": "text", "font": "Liberation Sans", "fontSize": 11, "fontWeight": "bold", "color": "#000", "baseline": "middle"},
             "encoding": {
               "x": {"field": "col", "type": "nominal", "axis": null, "scale": {"domain": ["okse","ku","ungokse","kvige","kalv"], "paddingInner": 0, "paddingOuter": 0}},
               "y": {"field": "row", "type": "nominal", "bandPosition": 1, "axis": null}, "text": {"field": "v"}}},
            {"data": {"name": "cells"}, "transform": [{"filter": "datum.sec === 'FD' && datum.row === 'h2a' && test(/\\n/, datum.v)"}],
             "mark": {"type": "text", "font": "Liberation Sans", "fontSize": 11, "fontWeight": "bold", "color": "#000", "baseline": "middle", "lineBreak": "\n", "lineHeight": 16, "dy": -8},
             "encoding": {"x": {"field": "col", "type": "nominal", "axis": null}, "y": {"field": "row", "type": "nominal", "bandPosition": 1, "axis": null}, "text": {"field": "v"}}},
            {"data": {"name": "cells"}, "transform": [{"filter": "datum.sec === 'FD' && test(/^[0-9]/, datum.row)"}],
             "mark": {"type": "text", "font": "Liberation Sans", "fontSize": 13, "color": "#333", "baseline": "middle"},
             "encoding": {"x": {"field": "col", "type": "nominal", "axis": null}, "y": {"field": "row", "type": "nominal", "axis": null}, "text": {"field": "v"}}},
            {"data": {"name": "cells"}, "transform": [{"filter": "datum.sec === 'FD' && test(/^T/, datum.row)"}],
             "mark": {"type": "text", "font": "Liberation Sans", "fontSize": 13, "fontWeight": "bold", "color": "#000", "baseline": "middle"},
             "encoding": {"x": {"field": "col", "type": "nominal", "axis": null}, "y": {"field": "row", "type": "nominal", "axis": null}, "text": {"field": "v"}}}
          ]
        },
        {
          "width": 272, "height": 332,
          "view": {"stroke": "#000", "strokeWidth": 1},
          "layer": [
            {"data": {"name": "rows"}, "mark": {"type": "rect", "strokeWidth": 1},
             "encoding": {"y": {"field": "row", "type": "nominal", "axis": null,
               "scale": {"domain": ["h1","h2a","h2b","2003","2004","2005","2006","T1","2007","2008","2009","2010","T2","2011","2012","2013","2014","T3"], "paddingInner": 0, "paddingOuter": 0}},
               "fill": {"condition": {"test": "indexof(['h1','h2a','h2b','2007','2008','2009','2010','T2'], datum.row) >= 0", "value": "#99cc00"}, "value": "#00ff00"},
               "stroke": {"condition": {"test": "indexof(['h1','h2a','h2b','2007','2008','2009','2010','T2'], datum.row) >= 0", "value": "#99cc00"}, "value": "#00ff00"}}},
            {"data": {"name": "lines"}, "transform": [{"filter": "datum.sec === 'FP'"}],
             "mark": {"type": "rule", "color": "#000", "strokeWidth": 1},
             "encoding": {"y": {"field": "row", "type": "nominal", "bandPosition": 0, "axis": null}}},
            {"data": {"name": "cells"}, "transform": [{"filter": "datum.sec === 'FP' && datum.row === 'h1'"}],
             "mark": {"type": "text", "font": "Liberation Sans", "fontSize": 11.7, "fontWeight": "bold", "color": "#000", "baseline": "middle", "letterSpacing": -0.4},
             "encoding": {"y": {"field": "row", "type": "nominal", "axis": null}, "text": {"field": "v"}}},
            {"data": {"name": "cells"}, "transform": [{"filter": "datum.sec === 'FP' && datum.row === 'h2a'"}],
             "mark": {"type": "text", "font": "Liberation Sans", "fontSize": 10.5, "fontWeight": "bold", "color": "#000", "baseline": "middle", "lineBreak": "\n", "lineHeight": 16, "dy": -8, "letterSpacing": -0.2},
             "encoding": {
               "x": {"field": "col", "type": "nominal", "axis": null, "scale": {"domain": ["kvote","mal","felte","pkvote","pmal"], "paddingInner": 0, "paddingOuter": 0}},
               "y": {"field": "row", "type": "nominal", "bandPosition": 1, "axis": null}, "text": {"field": "v"}}},
            {"data": {"name": "cells"}, "transform": [{"filter": "datum.sec === 'FP' && test(/^[0-9]/, datum.row)"}],
             "mark": {"type": "text", "font": "Liberation Sans", "fontSize": 13, "color": "#3a3a3a", "baseline": "middle"},
             "encoding": {"x": {"field": "col", "type": "nominal", "axis": null}, "y": {"field": "row", "type": "nominal", "axis": null}, "text": {"field": "v"}}},
            {"data": {"name": "cells"}, "transform": [{"filter": "datum.sec === 'FP' && test(/^T/, datum.row)"}],
             "mark": {"type": "text", "font": "Liberation Sans", "fontSize": 13, "fontWeight": "bold", "color": "#000", "baseline": "middle"},
             "encoding": {"x": {"field": "col", "type": "nominal", "axis": null}, "y": {"field": "row", "type": "nominal", "axis": null}, "text": {"field": "v"}}}
          ]
        },
        {
          "width": 208, "height": 332,
          "view": {"stroke": "#000", "strokeWidth": 1},
          "layer": [
            {"data": {"name": "rows"}, "mark": {"type": "rect", "strokeWidth": 1},
             "encoding": {"y": {"field": "row", "type": "nominal", "axis": null,
               "scale": {"domain": ["h1","h2a","h2b","2003","2004","2005","2006","T1","2007","2008","2009","2010","T2","2011","2012","2013","2014","T3"], "paddingInner": 0, "paddingOuter": 0}},
               "fill": {"condition": {"test": "indexof(['h1','h2a','h2b','2007','2008','2009','2010','T2'], datum.row) >= 0", "value": "#ffff00"}, "value": "#ffff99"},
               "stroke": {"condition": {"test": "indexof(['h1','h2a','h2b','2007','2008','2009','2010','T2'], datum.row) >= 0", "value": "#ffff00"}, "value": "#ffff99"}}},
            {"data": {"name": "lines"}, "transform": [{"filter": "datum.sec === 'PR'"}],
             "mark": {"type": "rule", "color": "#000", "strokeWidth": 1},
             "encoding": {"y": {"field": "row", "type": "nominal", "bandPosition": 0, "axis": null}}},
            {"data": {"name": "cells"}, "transform": [{"filter": "datum.sec === 'PR' && datum.row === 'h1'"}],
             "mark": {"type": "text", "font": "Liberation Sans", "fontSize": 11.7, "fontWeight": "bold", "color": "#000", "baseline": "middle", "letterSpacing": -0.4},
             "encoding": {"y": {"field": "row", "type": "nominal", "axis": null}, "text": {"field": "v"}}},
            {"data": {"name": "cells"}, "transform": [{"filter": "datum.sec === 'PR' && datum.row === 'h2a' && !test(/\\n/, datum.v)"}],
             "mark": {"type": "text", "font": "Liberation Sans", "fontSize": 11, "fontWeight": "bold", "color": "#000", "baseline": "middle"},
             "encoding": {
               "x": {"field": "col", "type": "nominal", "axis": null, "scale": {"domain": ["okse","ku","kalvung","kalv"], "paddingInner": 0, "paddingOuter": 0}},
               "y": {"field": "row", "type": "nominal", "bandPosition": 1, "axis": null}, "text": {"field": "v"}}},
            {"data": {"name": "cells"}, "transform": [{"filter": "datum.sec === 'PR' && datum.row === 'h2a' && test(/\\n/, datum.v)"}],
             "mark": {"type": "text", "font": "Liberation Sans", "fontSize": 11, "fontWeight": "bold", "color": "#000", "baseline": "middle", "lineBreak": "\n", "lineHeight": 16, "dy": -8},
             "encoding": {"x": {"field": "col", "type": "nominal", "axis": null}, "y": {"field": "row", "type": "nominal", "bandPosition": 1, "axis": null}, "text": {"field": "v"}}},
            {"data": {"name": "cells"}, "transform": [{"filter": "datum.sec === 'PR' && test(/profil/, datum.v)"}],
             "mark": {"type": "text", "font": "Liberation Sans", "fontSize": 13, "color": "#111", "baseline": "middle", "align": "left", "dx": 3},
             "encoding": {"x": {"field": "col", "type": "nominal", "axis": null, "bandPosition": 0}, "y": {"field": "row", "type": "nominal", "axis": null}, "text": {"field": "v"}}},
            {"data": {"name": "cells"}, "transform": [{"filter": "datum.sec === 'PR' && (datum.v === 'max' || datum.v === 'min')"}],
             "mark": {"type": "text", "font": "Liberation Sans", "fontSize": 13, "fontStyle": "italic", "color": "#111", "baseline": "middle"},
             "encoding": {"x": {"field": "col", "type": "nominal", "axis": null}, "y": {"field": "row", "type": "nominal", "axis": null}, "text": {"field": "v"}}},
            {"data": {"name": "cells"}, "transform": [{"filter": "datum.sec === 'PR' && test(/%/, datum.v)"}],
             "mark": {"type": "text", "font": "Liberation Sans", "fontSize": 13, "fontWeight": "bold", "baseline": "middle"},
             "encoding": {"x": {"field": "col", "type": "nominal", "axis": null}, "y": {"field": "row", "type": "nominal", "axis": null}, "text": {"field": "v"},
               "color": {"condition": {"test": "datum.avvik === true", "value": "#e0241b"}, "value": "#000"}}}
          ]
        }
      ]
    },
    {"width": 960, "height": 6, "data": {"values": []}, "mark": "point", "encoding": {},
     "title": {"text": "Røde tall betyr avvik fra målprofilen.", "fontSize": 14.7, "fontWeight": "normal", "color": "#d0202e", "dx": 2}},
    {"width": 1, "height": 29, "data": {"values": []}, "mark": "point", "encoding": {}},
    {
      "spacing": 0,
      "hconcat": [
        {"width": 2, "height": 1, "data": {"values": []}, "mark": "point", "encoding": {}},
        {
          "width": 618, "height": 338,
          "view": {"fill": "#c6d9f1", "stroke": "#8c8c8c", "strokeWidth": 1.5},
          "data": {"name": "sett"},
          "resolve": {"axis": {"x": "independent"}},
          "layer": [
            {
              "data": {"values": [{}]},
              "mark": {"type": "rect",
                "fill": {"gradient": "linear", "x1": 0, "y1": 0, "x2": 0, "y2": 1, "stops": [{"offset": 0, "color": "#97b4e0"}, {"offset": 1, "color": "#e9eff8"}]}},
              "encoding": {
                "x": {"datum": 1999.5, "type": "quantitative",
                  "scale": {"domain": [1997.664, 2015.1215], "nice": false, "zero": false},
                  "axis": {"orient": "bottom", "title": null, "values": [1999.5, 2000.5, 2001.5, 2002.5, 2003.5, 2004.5, 2005.5, 2006.5, 2007.5, 2008.5, 2009.5, 2010.5, 2011.5, 2012.5, 2013.5, 2014.5], "tickCount": 100, "labels": false, "ticks": true, "tickSize": 5, "tickColor": "#868686", "domain": false, "grid": false, "offset": -63}},
                "x2": {"datum": 2014.5},
                "y": {"datum": 0, "type": "quantitative",
                  "scale": {"domain": [-0.249, 1.087], "nice": false, "zero": false},
                  "axis": {"title": null, "values": [0, 0.1, 0.2, 0.3, 0.4, 0.5, 0.6, 0.7, 0.8, 0.9, 1.0], "tickCount": 100, "labelExpr": "replace(format(datum.value, '.1f'), '.', ',')", "offset": -65, "domain": false, "grid": false, "ticks": true, "tickSize": 5, "tickColor": "#868686", "labels": true, "labelFont": "Lato", "labelFontSize": 14.5, "labelColor": "#262626", "labelPadding": 8, "labelOverlap": false, "maxExtent": 0, "minExtent": 0}},
                "y2": {"datum": 1}
              }
            },
            {
              "data": {"values": [{}]},
              "mark": {"type": "rule", "color": "#868686", "strokeWidth": 1},
              "encoding": {"x": {"datum": 1999.5, "type": "quantitative", "axis": null}, "x2": {"datum": 2014.5}, "y": {"datum": 0, "type": "quantitative"}}
            },
            {
              "data": {"values": [{}]},
              "mark": {"type": "rule", "color": "#868686", "strokeWidth": 1},
              "encoding": {"x": {"datum": 1999.5, "type": "quantitative", "axis": null}, "y": {"datum": 0, "type": "quantitative"}, "y2": {"datum": 1}}
            },
            {
              "mark": {"type": "line", "color": "#4f81bd", "strokeWidth": 3.5},
              "encoding": {
                "x": {"field": "year", "type": "quantitative",
                  "axis": {"orient": "bottom", "title": null, "values": [2000, 2001, 2002, 2003, 2004, 2005, 2006, 2007, 2008, 2009, 2010, 2011, 2012, 2013, 2014], "tickCount": 100, "format": "d", "ticks": false, "tickSize": 0, "domain": false, "grid": false, "offset": -63, "labelAngle": -90, "labelAlign": "right", "labelBaseline": "middle", "labelPadding": 10, "labelFont": "Lato", "labelFontSize": 14, "labelColor": "#262626", "labelOverlap": false, "labelFlush": false}},
                "y": {"field": "sett", "type": "quantitative"}}
            },
            {
              "mark": {"type": "point", "shape": "diamond", "filled": true, "size": 130, "color": "#4f81bd", "opacity": 1},
              "encoding": {"x": {"field": "year", "type": "quantitative", "axis": null}, "y": {"field": "sett", "type": "quantitative"}}
            },
            {
              "data": {"values": [{"label": "Sett elg per jegerdagsverk*"}]},
              "mark": {"type": "text", "font": "Lato", "fontSize": 16.5, "fontWeight": "bold", "align": "left", "baseline": "top", "lineHeight": 22, "color": "#000"},
              "encoding": {"x": {"datum": 2003.14, "type": "quantitative", "axis": null}, "y": {"datum": 0.952, "type": "quantitative"}, "text": {"value": ["Sett elg per jegerdagsverk*", "Kvalsund 1993-2014"]}}
            }
          ]
        }
      ]
    },
    {
      "spacing": 5,
      "hconcat": [
        {"width": 1, "height": 13, "data": {"values": []}, "mark": "point", "encoding": {}, "title": {"text": "Figur 2.3.3.", "fontSize": 17, "fontWeight": "bold", "dx": 2}},
        {"width": 1, "height": 13, "data": {"values": []}, "mark": "point", "encoding": {}, "title": {"text": "Sett-elg for Kvalsund, perioden 1993-2014. *Fra 2003 er", "fontSize": 17, "fontWeight": "normal"}}
      ]
    },
    {"width": 960, "height": 2, "data": {"values": []}, "mark": "point", "encoding": {},
     "title": {"text": "sett-elg per jegerdagsverk justert til 8 timers jaktdag.", "fontSize": 17, "fontWeight": "normal", "dx": 2}},
    {"width": 960, "height": 31, "data": {"values": []}, "mark": "point", "encoding": {},
     "title": {"text": "10", "fontSize": 19, "fontWeight": "normal", "anchor": "middle"}}
  ],
  "config": {
    "view": {"stroke": null},
    "concat": {"spacing": 0},
    "title": {"font": "DejaVu Sans", "color": "#000", "anchor": "start", "frame": "group", "orient": "bottom", "offset": 0, "subtitleFont": "DejaVu Sans", "subtitleColor": "#000", "subtitleFontWeight": "normal"}
  }
}
